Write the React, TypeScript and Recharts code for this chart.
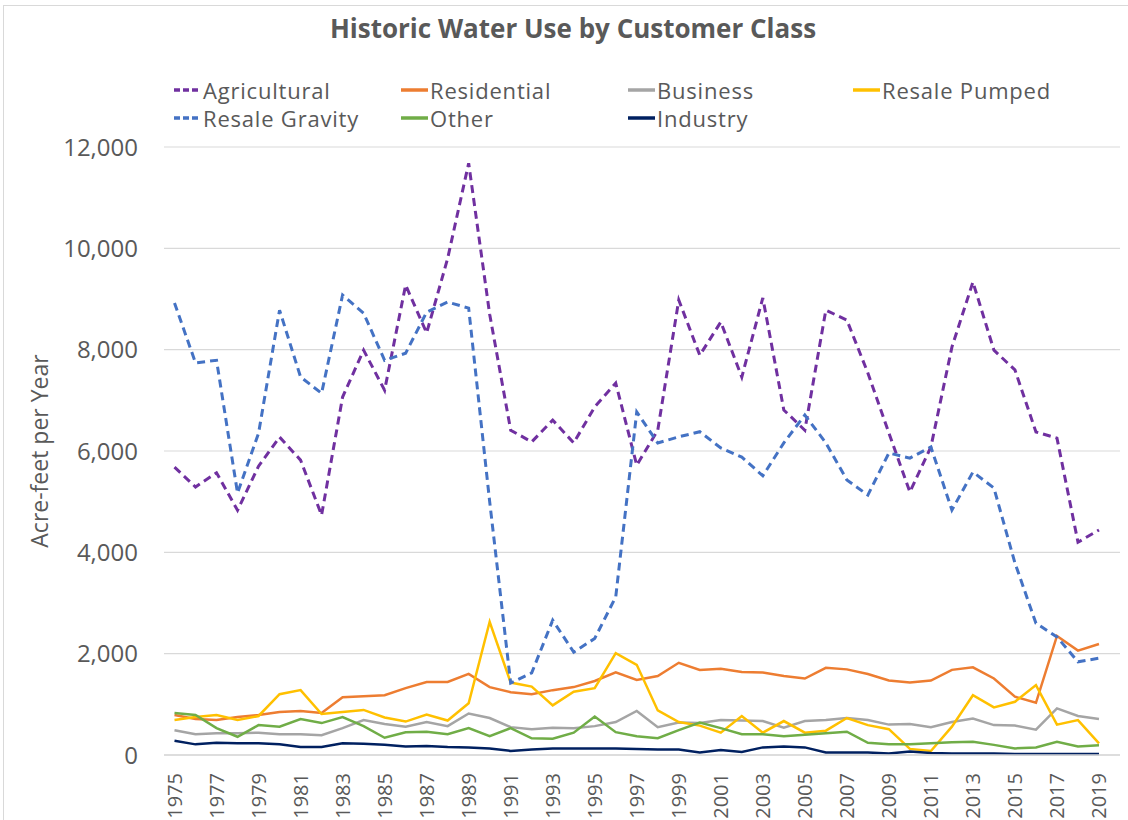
import React from 'react';
import { LineChart, Line, XAxis, YAxis, CartesianGrid, Label } from 'recharts';

const years = [1975,1976,1977,1978,1979,1980,1981,1982,1983,1984,1985,1986,1987,1988,1989,1990,1991,1992,1993,1994,1995,1996,1997,1998,1999,2000,2001,2002,2003,2004,2005,2006,2007,2008,2009,2010,2011,2012,2013,2014,2015,2016,2017,2018,2019];

const agricultural = [5680,5290,5570,4830,5700,6275,5820,4735,7065,7990,7200,9275,8330,9800,11680,8700,6410,6180,6610,6160,6870,7340,5720,6410,8980,7890,8545,7460,9020,6810,6410,8780,8585,7540,6355,5190,6080,8050,9335,7990,7600,6375,6255,4200,4440];
const residential = [790,710,690,750,790,850,870,830,1140,1160,1180,1320,1440,1440,1600,1340,1240,1200,1280,1340,1460,1630,1480,1560,1820,1680,1700,1640,1630,1560,1510,1720,1690,1600,1470,1430,1470,1680,1730,1510,1150,1030,2350,2060,2190];
const business = [490,410,430,430,440,410,410,390,530,690,610,560,650,570,820,730,550,510,540,530,570,650,870,550,640,630,690,680,670,540,670,690,730,690,600,610,550,650,720,590,580,500,920,770,710];
const resalePumped = [690,750,790,690,770,1200,1280,810,850,890,740,660,800,680,1020,2630,1430,1350,980,1250,1320,2010,1780,880,650,580,440,770,440,670,440,480,730,590,510,120,80,560,1180,940,1050,1380,600,690,230];
const resaleGravity = [8920,7740,7790,5170,6350,8780,7460,7140,9080,8720,7790,7930,8740,8940,8820,5000,1420,1620,2660,2030,2300,3120,6770,6160,6280,6380,6060,5880,5510,6160,6710,6160,5430,5130,5960,5860,6080,4835,5585,5270,3790,2600,2330,1840,1910];
const other = [830,790,530,360,590,560,710,630,750,570,340,450,460,410,530,370,530,330,320,440,760,450,370,330,490,640,530,410,410,370,400,430,460,240,210,210,230,250,260,200,130,150,260,170,190];
const industry = [280,210,240,230,230,210,160,160,230,220,200,170,180,160,150,130,80,110,130,130,130,130,120,110,110,50,100,60,150,170,150,50,50,50,30,70,40,30,30,30,20,20,20,20,20];

const xTicks = [1975,1977,1979,1981,1983,1985,1987,1989,1991,1993,1995,1997,1999,2001,2003,2005,2007,2009,2011,2013,2015,2017,2019];
const yTicks = [0,2000,4000,6000,8000,10000,12000];

const seriesInfo = [
  { key: 'agricultural', name: 'Agricultural', color: '#7030A0', dashed: true },
  { key: 'residential', name: 'Residential', color: '#ED7D31', dashed: false },
  { key: 'business', name: 'Business', color: '#A5A5A5', dashed: false },
  { key: 'resalePumped', name: 'Resale Pumped', color: '#FFC000', dashed: false },
  { key: 'resaleGravity', name: 'Resale Gravity', color: '#4472C4', dashed: true },
  { key: 'other', name: 'Other', color: '#70AD47', dashed: false },
  { key: 'industry', name: 'Industry', color: '#002060', dashed: false },
];

const data = years.map((y, i) => ({
  year: y,
  agricultural: agricultural[i],
  residential: residential[i],
  business: business[i],
  resalePumped: resalePumped[i],
  resaleGravity: resaleGravity[i],
  other: other[i],
  industry: industry[i],
}));

const FONT = '"Open Sans", sans-serif';
const TEXT = '#595959';

const XTick = (props: any) => {
  const { x, y, payload } = props;
  return (
    <g transform={`translate(${x},${y + 10})`}>
      <text transform="rotate(-90)" textAnchor="end" dy="0.36em" fill={TEXT} fontSize={20} fontFamily={FONT}>
        {payload.value}
      </text>
    </g>
  );
};

const LegendBlock = () => {
  const colX = [174, 401, 628, 853];
  return (
    <>
      {seriesInfo.map((s, i) => {
        const row = i < 4 ? 0 : 1;
        const col = i < 4 ? i : i - 4;
        return (
          <div key={s.key} style={{ position: 'absolute', left: colX[col], top: 76 + row * 28, height: 28, display: 'flex', alignItems: 'center', whiteSpace: 'nowrap', fontFamily: FONT, color: TEXT, fontSize: 22, letterSpacing: 0.8 }}>
            <svg width={27} height={10} style={{ marginRight: 2 }}>
              <line x1={0} y1={5} x2={27} y2={5} stroke={s.color} strokeWidth={3.5} strokeDasharray={s.dashed ? '6 3' : undefined} />
            </svg>
            <span>{s.name}</span>
          </div>
        );
      })}
    </>
  );
};

export default function App() {
  return (
    <div style={{ position: 'absolute', left: 0, top: 0, width: 1128, height: 820, background: '#fff' }}>
      <div style={{ position: 'absolute', left: 3, top: 5, width: 1125, height: 1, background: '#D9D9D9' }} />
      <div style={{ position: 'absolute', left: 3, top: 5, width: 1, height: 815, background: '#D9D9D9' }} />
      <div style={{ position: 'absolute', left: 0, top: 10, width: 1128, textAlign: 'center', fontFamily: FONT, fontWeight: 700, fontSize: 26, color: TEXT }}>
        <span style={{ position: 'relative', left: 9 }}>Historic Water Use by Customer Class</span>
      </div>
      <LegendBlock />
      <div style={{ position: 'absolute', left: 0, top: 0 }}>
        <LineChart width={1128} height={820} data={data} margin={{ top: 147, right: 8, bottom: 5, left: 0 }}>
          <CartesianGrid vertical={false} stroke="#D9D9D9" strokeWidth={1.2} />
          <XAxis
            dataKey="year"
            type="number"
            domain={[1974.5, 2019.5]}
            ticks={xTicks}
            interval={0}
            tick={<XTick />}
            tickLine={false}
            axisLine={{ stroke: '#D9D9D9', strokeWidth: 1.5 }}
            height={60}
            allowDecimals={false}
          />
          <YAxis
            domain={[0, 12000]}
            ticks={yTicks}
            width={164}
            axisLine={false}
            tickLine={false}
            tickSize={0}
            tickMargin={26}
            tickFormatter={(v: number) => v.toLocaleString('en-US')}
            tick={{ fill: TEXT, fontSize: 24, fontFamily: FONT }}
          >
            <Label value="Acre-feet per Year" angle={-90} position="insideLeft" offset={40} style={{ fill: TEXT, fontSize: 23, fontFamily: FONT, textAnchor: 'middle' }} />
          </YAxis>
          {seriesInfo.map((s) => (
            <Line
              key={s.key}
              type="linear"
              dataKey={s.key}
              name={s.name}
              stroke={s.color}
              strokeWidth={s.dashed ? 3 : 2.5}
              strokeDasharray={s.dashed ? '8 5' : undefined}
              dot={false}
              activeDot={false}
              isAnimationActive={false}
            />
          ))}
        </LineChart>
      </div>
    </div>
  );
}
